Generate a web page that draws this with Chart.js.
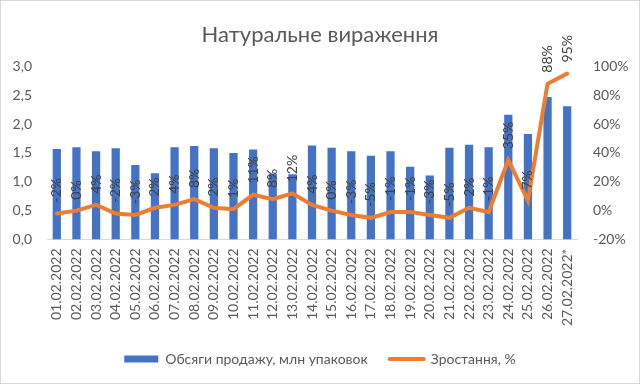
<!DOCTYPE html>
<html>
<head>
<meta charset="utf-8">
<script src="https://cdn.jsdelivr.net/npm/chart.js@4"></script>
<style>
  body { margin: 0; background: #fff; }
  #wrap { width: 640px; height: 384px; }
</style>
</head>
<body>
<div id="wrap"><canvas id="chart" width="640" height="384"></canvas></div>
<script>
// Data
const dates = [
    '01.02.2022', '02.02.2022', '03.02.2022', '04.02.2022', '05.02.2022', '06.02.2022',
    '07.02.2022', '08.02.2022', '09.02.2022', '10.02.2022', '11.02.2022', '12.02.2022',
    '13.02.2022', '14.02.2022', '15.02.2022', '16.02.2022', '17.02.2022', '18.02.2022',
    '19.02.2022', '20.02.2022', '21.02.2022', '22.02.2022', '23.02.2022', '24.02.2022',
    '25.02.2022', '26.02.2022', '27.02.2022*'
];
const salesVolume = [
    1.57, 1.60, 1.53, 1.58, 1.29, 1.15, 1.60, 1.62, 1.58, 1.50,
    1.56, 1.14, 1.13, 1.63, 1.59, 1.53, 1.45, 1.53, 1.26, 1.11,
    1.59, 1.64, 1.60, 2.16, 1.83, 2.47, 2.31
];
const growthPct = [
    -2, 0, 4, -2, -3, 2, 4, 8, 2, 1,
    11, 8, 12, 4, 0, -3, -5, -1, -1, -3,
    -5, 2, -1, 35, 7, 88, 95
];

const colors = {
    bar: '#4472C4',
    line: '#ED7D31',
    text: '#595959',
    label: '#404040',
    axis: '#D9D9D9',
};
const fontFamily = 'Lato, "Open Sans", sans-serif';

// rotated value labels above the line points
const lineLabels = {
    id: 'lineLabels',
    afterDatasetsDraw(chart) {
        const ctx = chart.ctx;
        const meta = chart.getDatasetMeta(1);
        ctx.save();
        ctx.fillStyle = colors.label;
        ctx.font = '14px ' + fontFamily;
        ctx.textAlign = 'left';
        ctx.textBaseline = 'middle';
        meta.data.forEach((pt, i) => {
            ctx.save();
            ctx.translate(pt.x, pt.y - 11);
            ctx.rotate(-Math.PI / 2);
            ctx.fillText(growthPct[i] + '%', 0, 0);
            ctx.restore();
        });
        ctx.restore();
    }
};

// light frame around the whole chart
const frame = {
    id: 'frame',
    beforeDraw(chart) {
        const ctx = chart.ctx;
        ctx.save();
        ctx.fillStyle = '#fff';
        ctx.fillRect(0, 0, chart.width, chart.height);
        ctx.strokeStyle = colors.axis;
        ctx.lineWidth = 1;
        ctx.strokeRect(0.5, 0.5, chart.width - 1, chart.height - 1);
        ctx.restore();
    }
};

new Chart(document.getElementById('chart'), {
    type: 'bar',
    data: {
        labels: dates,
        datasets: [
            {
                type: 'bar',
                label: 'Обсяги продажу, млн упаковок',
                data: salesVolume,
                backgroundColor: colors.bar,
                yAxisID: 'y',
                barPercentage: 0.42,
                categoryPercentage: 1,
                order: 2,
            },
            {
                type: 'line',
                label: 'Зростання, %',
                data: growthPct,
                borderColor: colors.line,
                backgroundColor: colors.line,
                borderWidth: 4,
                borderCapStyle: 'round',
                pointRadius: 0,
                tension: 0,
                yAxisID: 'y1',
                order: 1,
            }
        ]
    },
    options: {
        responsive: false,
        animation: false,
        layout: { padding: { left: 0, right: 0, top: 8, bottom: 8 } },
        plugins: {
            title: {
                display: true,
                text: 'Натуральне вираження',
                color: colors.text,
                font: { family: fontFamily, size: 22, weight: 'normal' },
                padding: { top: 14, bottom: 18 },
            },
            legend: {
                position: 'bottom',
                labels: {
                    color: colors.text,
                    font: { family: fontFamily, size: 14 },
                    usePointStyle: true,
                    pointStyleWidth: 34,
                    boxHeight: 7,
                    padding: 22,
                    sort: (a, b) => a.datasetIndex - b.datasetIndex,
                    generateLabels: chart =>
                        Chart.defaults.plugins.legend.labels.generateLabels(chart).map(l => ({
                            ...l,
                            pointStyle: l.datasetIndex === 0 ? 'rect' : 'line',
                            lineWidth: l.datasetIndex === 0 ? 0 : 4,
                            lineCap: 'round',
                        })),
                },
            },
            tooltip: { enabled: false },
        },
        scales: {
            x: {
                afterFit: s => { s.height -= 5; },
                grid: { display: false, drawTicks: false },
                border: { color: colors.axis },
                ticks: {
                    color: colors.text,
                    font: { family: fontFamily, size: 14 },
                    minRotation: 90,
                    maxRotation: 90,
                    autoSkip: false,
                    padding: 9,
                },
            },
            y: {
                position: 'left',
                min: 0,
                max: 3,
                afterFit: s => { s.width = 47; },
                grid: { display: false, drawTicks: false },
                border: { display: false },
                ticks: {
                    stepSize: 0.5,
                    color: colors.text,
                    font: { family: fontFamily, size: 14 },
                    padding: 15,
                    callback: v => v.toFixed(1).replace('.', ','),
                },
            },
            y1: {
                position: 'right',
                min: -20,
                max: 100,
                afterFit: s => { s.width = 63; },
                grid: { display: false, drawTicks: false },
                border: { display: false },
                ticks: {
                    stepSize: 20,
                    color: colors.text,
                    font: { family: fontFamily, size: 14 },
                    padding: 16,
                    callback: v => v + '%',
                },
            },
        },
    },
    plugins: [frame, lineLabels],
});
</script>
</body>
</html>
